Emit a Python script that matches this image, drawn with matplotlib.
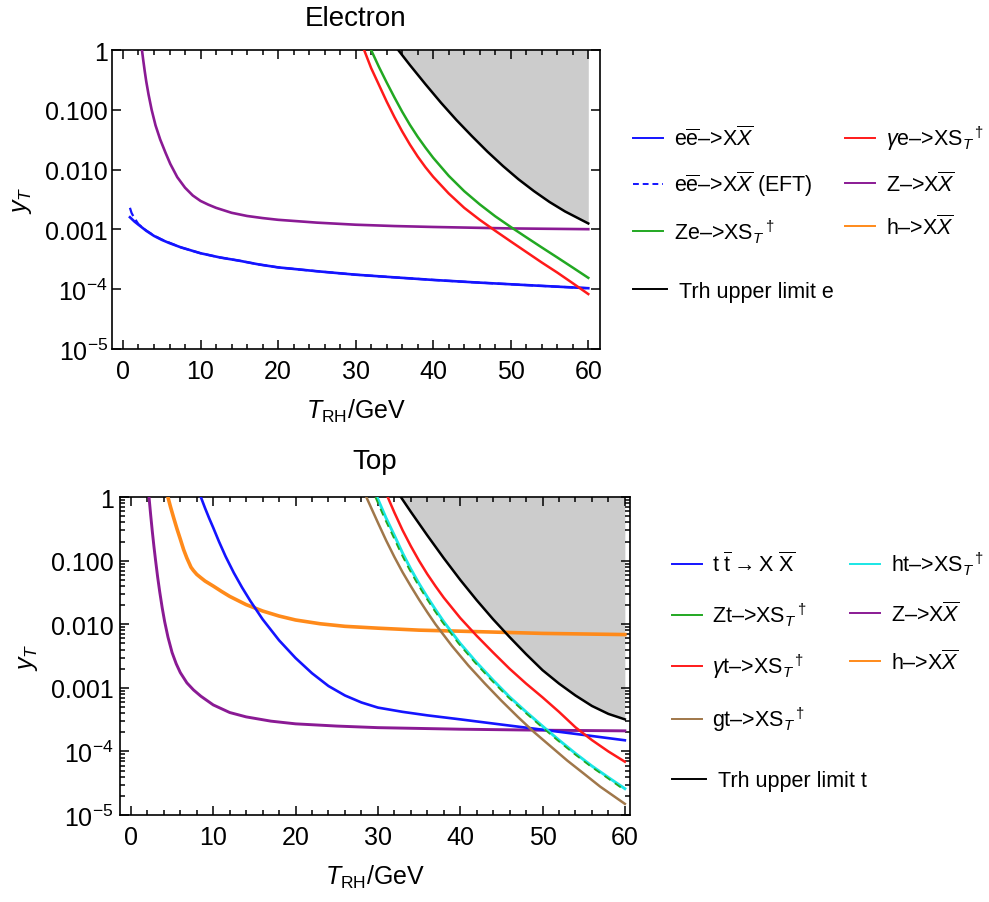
import numpy as np
import matplotlib
matplotlib.use("Agg")
import matplotlib.pyplot as plt
from matplotlib.lines import Line2D
from matplotlib.ticker import FixedLocator, FixedFormatter, MultipleLocator, LogLocator, NullFormatter

plt.rcParams['font.family'] = 'Liberation Sans'
plt.rcParams['mathtext.fontset'] = 'custom'
plt.rcParams['mathtext.rm'] = 'Liberation Sans'
plt.rcParams['mathtext.it'] = 'Liberation Sans:italic'
plt.rcParams['mathtext.bf'] = 'Liberation Sans:bold'

# ---------------- Electron panel ----------------
e_ee_x = [0.9, 1.5, 2, 3, 4, 5, 6, 7.5, 10, 12.5, 15, 17.5, 20, 25, 30, 35, 40, 45, 50, 55, 60]
e_ee_y = [0.0016, 0.00135, 0.0012, 0.00095, 0.00078, 0.00067, 0.00059, 0.0005, 0.0004, 0.00034, 0.0003,
          0.00026, 0.000232, 0.0002, 0.000175, 0.000158, 0.000143, 0.000131, 0.000121, 0.000112, 0.000104]
e_eft_x = [0.9, 1.1, 1.4, 1.7, 2, 3, 4, 5, 6, 7.5, 10, 12.5, 15, 17.5, 20, 25, 30, 35, 40, 45, 50, 55, 60]
e_eft_y = [0.0023, 0.0019, 0.0016, 0.0014, 0.00122, 0.00096, 0.00079, 0.00068, 0.0006, 0.0005, 0.0004, 0.00034,
           0.0003, 0.00026, 0.000232, 0.0002, 0.000175, 0.000158, 0.000143, 0.000131, 0.000121, 0.000112, 0.000104]
e_Z_x = [2.45, 2.6, 2.8, 3.0, 3.3, 3.7, 4.2, 4.8, 5.5, 6.1, 7, 8, 9, 10, 11, 12, 14, 16, 18, 20, 25, 30, 35, 40, 50, 60]
e_Z_y = [1, 0.7, 0.45, 0.3, 0.18, 0.1, 0.055, 0.032, 0.019, 0.0125, 0.0075, 0.005, 0.0037, 0.003, 0.0026,
         0.0023, 0.0019, 0.00168, 0.00155, 0.00145, 0.0013, 0.0012, 0.00114, 0.0011, 0.00104, 0.00101]
e_gam_x = [31.1, 32, 33, 34, 35, 36, 37, 38, 39, 40, 42, 44, 46, 48, 50, 52, 54, 56, 58, 60]
e_gam_y = [1, 0.50, 0.263, 0.138, 0.0759, 0.0437, 0.0263, 0.0166, 0.011, 0.0076, 0.004, 0.0023, 0.00145,
           0.00095, 0.00063, 0.00042, 0.00028, 0.00019, 0.000126, 0.000083]
e_Ze_x = [32, 33, 34, 35, 36, 37, 38, 39, 40, 42, 44, 46, 48, 50, 52, 54, 56, 58, 60]
e_Ze_y = [1, 0.525, 0.288, 0.162, 0.0933, 0.0562, 0.0355, 0.0234, 0.0158, 0.0079, 0.00437, 0.00263, 0.00166,
          0.0011, 0.00074, 0.0005, 0.00034, 0.00023, 0.000155]
e_lim_x = [35.5, 37, 39, 41, 43, 45, 47, 49, 51, 53, 55, 57, 60]
e_lim_y = [1, 0.562, 0.269, 0.132, 0.0676, 0.0363, 0.02, 0.0115, 0.0069, 0.00437, 0.00288, 0.002, 0.00126]

# ---------------- Top panel ----------------
t_tt_x = [8.5, 9.0, 9.5, 10.0, 10.7, 11.5, 12.5, 13.5, 14.5, 16, 18, 20, 22, 24, 26, 28, 30, 33, 36, 40, 45, 50, 55, 60]
t_tt_y = [1, 0.676, 0.468, 0.331, 0.2, 0.117, 0.0646, 0.038, 0.0234, 0.012, 0.0056, 0.00295, 0.0017, 0.00107,
          0.00076, 0.00059, 0.00049, 0.00042, 0.00037, 0.00032, 0.000265, 0.00022, 0.000182, 0.00015]
t_Z_x = [2.2, 2.4, 2.6, 2.8, 3.0, 3.25, 3.5, 3.8, 4.1, 4.5, 5.0, 5.5, 6.0, 6.8, 7.6, 8.5, 10, 12, 14, 17, 20, 25, 30, 40, 50, 60]
t_Z_y = [1, 0.525, 0.288, 0.166, 0.1, 0.055, 0.0324, 0.0182, 0.011, 0.0063, 0.0036, 0.0024, 0.00174, 0.0012,
         0.00093, 0.00074, 0.00054, 0.00041, 0.00035, 0.0003, 0.000272, 0.000251, 0.000237, 0.000224, 0.000216, 0.000211]
t_h_x = [4.5, 4.8, 5.2, 5.6, 6.0, 6.4, 6.8, 7.3, 7.6, 8, 8.5, 9, 10, 11, 12, 14, 16, 18, 20, 23, 26, 30, 35, 40, 50, 60]
t_h_y = [1, 0.71, 0.47, 0.316, 0.219, 0.15, 0.11, 0.079, 0.07, 0.061, 0.054, 0.048, 0.04, 0.033, 0.0275, 0.0204,
         0.0162, 0.0135, 0.0117, 0.0102, 0.0093, 0.0087, 0.0081, 0.0078, 0.0072, 0.0069]
t_gam_x = [31.2, 32, 33, 34, 35, 36, 37, 38, 40, 42, 44, 46, 48, 50, 52, 54, 56, 58, 60]
t_gam_y = [1, 0.575, 0.302, 0.17, 0.1, 0.0617, 0.0398, 0.0263, 0.0126, 0.0066, 0.0036, 0.002, 0.00117, 0.00071,
           0.00042, 0.00024, 0.000151, 0.0001, 0.000069]
t_ht_x = [29.9, 31, 32, 33, 34, 35, 36, 37, 38, 40, 42, 44, 46, 48, 50, 52, 54, 56, 58, 60]
t_ht_y = [1, 0.468, 0.251, 0.132, 0.0741, 0.0437, 0.0269, 0.017, 0.011, 0.005, 0.0025, 0.00132, 0.00072,
          0.00042, 0.00025, 0.000151, 0.000093, 0.000059, 0.000039, 0.000026]
t_Zt_x = [29.7, 30.8, 31.8, 32.8, 33.8, 34.8, 35.8, 36.8, 37.8, 39.8, 41.8, 43.8, 45.8, 47.8, 49.8, 51.8, 53.8, 55.8, 57.8, 60]
t_Zt_y = [1, 0.468, 0.251, 0.132, 0.0741, 0.0437, 0.0269, 0.017, 0.011, 0.005, 0.0025, 0.00132, 0.00072,
          0.00042, 0.00025, 0.000151, 0.000093, 0.000059, 0.000039, 0.0000245]
t_gt_x = [28.6, 30, 31, 32, 33, 34, 35, 36, 37, 39, 41, 43, 45, 47, 49, 51, 53, 55, 57, 60]
t_gt_y = [1, 0.398, 0.209, 0.115, 0.066, 0.0398, 0.0245, 0.0155, 0.01, 0.00457, 0.00224, 0.00117, 0.00063,
          0.00035, 0.0002, 0.00012, 0.000072, 0.000045, 0.000028, 0.000015]
t_lim_x = [32.8, 34, 36, 38, 40, 42, 44, 46, 48, 50, 52, 54, 56, 58, 60]
t_lim_y = [1, 0.589, 0.251, 0.11, 0.0501, 0.024, 0.012, 0.0063, 0.0034, 0.0019, 0.00117, 0.00076, 0.00052,
           0.00039, 0.00032]

ytick_vals = [1e-5, 1e-4, 1e-3, 1e-2, 1e-1, 1]
ytick_labels = [r'$10^{-5}$', r'$10^{-4}$', '0.001', '0.010', '0.100', '1']
xtick_vals = [0, 10, 20, 30, 40, 50, 60]

BLUE = '#1414ff'; RED = '#ff1a1a'; GREEN = '#22a822'; PURPLE = '#8a1a94'
ORANGE = '#ff8a1a'; CYAN = '#1ae6e6'; BROWN = '#a0774a'; GRAY = '#cccccc'
ARROW = '\u2013>'

fig = plt.figure(figsize=(9.89, 9.03), dpi=100)
ax1 = fig.add_axes([0.1132, 0.6124, 0.4934, 0.331])
ax2 = fig.add_axes([0.1218, 0.0963, 0.5150, 0.352])

def style(ax, title, xlim, tpad, ypad):
    ax.set_yscale('log')
    ax.set_ylim(1e-5, 1)
    ax.set_xlim(*xlim)
    ax.yaxis.set_major_locator(FixedLocator(ytick_vals))
    ax.yaxis.set_major_formatter(FixedFormatter(ytick_labels))
    ax.yaxis.set_minor_locator(LogLocator(base=10, subs=np.arange(2, 10)))
    ax.yaxis.set_minor_formatter(NullFormatter())
    ax.xaxis.set_major_locator(FixedLocator(xtick_vals))
    ax.xaxis.set_minor_locator(MultipleLocator(2))
    ax.tick_params(which='both', direction='in', top=True, right=True, labelsize=18, width=1.1)
    ax.tick_params(which='major', length=6.5)
    ax.tick_params(which='minor', length=3.5)
    ax.tick_params(axis='y', pad=ypad)
    ax.tick_params(axis='x', pad=7)
    for s in ax.spines.values():
        s.set_linewidth(1.2)
    ax.set_title(title, fontsize=20, pad=tpad)
    ax.set_xlabel(r'$T_{\mathrm{RH}}$/GeV', fontsize=18, labelpad=10)
    ax.set_ylabel(r'$y_T$', fontsize=18, labelpad=8)

# Electron
ax1.fill_between(e_lim_x, e_lim_y, 1.0, color=GRAY, lw=0, zorder=1)
ax1.plot(e_Z_x, e_Z_y, color=PURPLE, lw=1.9, zorder=3)
ax1.plot(e_ee_x, e_ee_y, color=BLUE, lw=1.9, zorder=3)
ax1.plot(e_eft_x, e_eft_y, color=BLUE, lw=1.6, ls=(0, (4, 2)), zorder=3)
ax1.plot(e_gam_x, e_gam_y, color=RED, lw=1.8, zorder=3)
ax1.plot(e_Ze_x, e_Ze_y, color=GREEN, lw=1.8, zorder=3)
ax1.plot(e_lim_x, e_lim_y, color='black', lw=1.8, zorder=3)
style(ax1, 'Electron', (-1.42, 61.5), 18, 3)

# Top
ax2.fill_between(t_lim_x, t_lim_y, 1.0, color=GRAY, lw=0, zorder=1)
ax2.plot(t_Z_x, t_Z_y, color=PURPLE, lw=2.1, zorder=3)
ax2.plot(t_h_x, t_h_y, color=ORANGE, lw=2.6, zorder=3)
ax2.plot(t_tt_x, t_tt_y, color=BLUE, lw=1.9, zorder=3)
ax2.plot(t_gt_x, t_gt_y, color=BROWN, lw=1.8, zorder=3)
ax2.plot(t_ht_x, t_ht_y, color=CYAN, lw=2.1, zorder=3)
ax2.plot(t_Zt_x, t_Zt_y, color=GREEN, lw=1.3, ls=(0, (4, 3)), zorder=4)
ax2.plot(t_gam_x, t_gam_y, color=RED, lw=1.8, zorder=3)
ax2.plot(t_lim_x, t_lim_y, color='black', lw=1.8, zorder=3)
style(ax2, 'Top', (-1.27, 60.6), 21, 5)

def h(c, ls='-'):
    return Line2D([], [], color=c, lw=1.4, ls=ls)

e_labels = [r'e$\overline{\mathrm{e}}$' + ARROW + r'X$\overline{X}$',
            r'e$\overline{\mathrm{e}}$' + ARROW + r'X$\overline{X}$ (EFT)',
            'Ze' + ARROW + r'XS$_T$$^\dagger$',
            r'$\gamma$e' + ARROW + r'XS$_T$$^\dagger$',
            'Z' + ARROW + r'X$\overline{X}$',
            'h' + ARROW + r'X$\overline{X}$']
e_handles = [h(BLUE), h(BLUE, (0, (3, 2))), h(GREEN), h(RED), h(PURPLE), h(ORANGE)]
fig.legend(e_handles, e_labels, loc='upper left', bbox_to_anchor=(0.640, 0.862),
           ncol=2, frameon=False, fontsize=15.5, handlelength=1.4, handletextpad=0.5,
           columnspacing=1.5, labelspacing=0.88, borderpad=0, borderaxespad=0)
fig.legend([h('black')], ['Trh upper limit e'], loc='upper left', bbox_to_anchor=(0.640, 0.688),
           frameon=False, fontsize=15.5, handlelength=1.6, handletextpad=0.55, borderpad=0, borderaxespad=0)

t_labels = [r't $\overline{\mathrm{t}}\rightarrow$X $\overline{\mathrm{X}}$',
            'Zt' + ARROW + r'XS$_T$$^\dagger$',
            r'$\gamma$t' + ARROW + r'XS$_T$$^\dagger$',
            'gt' + ARROW + r'XS$_T$$^\dagger$',
            'ht' + ARROW + r'XS$_T$$^\dagger$',
            'Z' + ARROW + r'X$\overline{X}$',
            'h' + ARROW + r'X$\overline{X}$']
t_handles = [h(BLUE), h(GREEN), h(RED), h(BROWN), h(CYAN), h(PURPLE), h(ORANGE)]
fig.legend(t_handles, t_labels, loc='upper left', bbox_to_anchor=(0.679, 0.390),
           ncol=2, frameon=False, fontsize=15.5, handlelength=1.4, handletextpad=0.5,
           columnspacing=2.0, labelspacing=1.12, borderpad=0, borderaxespad=0)
fig.legend([h('black')], ['Trh upper limit t'], loc='upper left', bbox_to_anchor=(0.679, 0.146),
           frameon=False, fontsize=15.5, handlelength=1.6, handletextpad=0.55, borderpad=0, borderaxespad=0)

fig.savefig('out.png', dpi=100)
